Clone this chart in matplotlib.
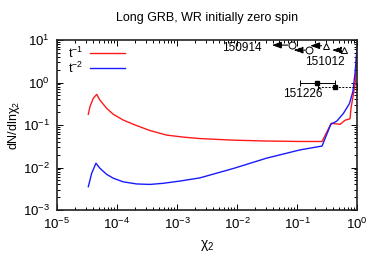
import matplotlib
matplotlib.use('Agg')
from matplotlib import pyplot as plt
from matplotlib.ticker import LogLocator, NullFormatter

plt.rcParams['font.family'] = ['Liberation Sans', 'DejaVu Sans']
plt.rcParams['mathtext.fontset'] = 'custom'
plt.rcParams['mathtext.rm'] = 'Liberation Sans'
plt.rcParams['mathtext.it'] = 'Liberation Sans:italic'
plt.rcParams['mathtext.default'] = 'regular'

# t^-1 delay distribution
chiRed = [3.33e-5, 3.55e-5, 4.03e-5, 4.59e-5, 5.2e-5, 6.73e-5, 8.68e-5, 1.27e-4, 1.87e-4,
          3.55e-4, 6.7e-4, 1.26e-3, 2.4e-3, 8.7e-3, 0.031, 0.112, 0.26, 0.37, 0.52, 0.63,
          0.76, 0.79, 0.93, 0.99]
dnRed = [0.179, 0.27, 0.425, 0.527, 0.387, 0.247, 0.179, 0.131, 0.104,
         0.074, 0.058, 0.052, 0.048, 0.044, 0.042, 0.041, 0.041, 0.11, 0.104, 0.13,
         0.14, 0.25, 0.95, 5.5]

# t^-2 delay distribution
chiBlue = [3.33e-5, 3.79e-5, 4.47e-5, 5.2e-5, 6.73e-5, 8.68e-5, 1.27e-4, 2.13e-4, 3.55e-4,
           5.9e-4, 1.12e-3, 2.4e-3, 8.7e-3, 0.031, 0.112, 0.26, 0.364, 0.459, 0.59, 0.744,
           0.848, 0.927, 1.0]
dnBlue = [0.00353, 0.0073, 0.0126, 0.0096, 0.0069, 0.0056, 0.0046, 0.0041, 0.0040,
          0.00425, 0.0048, 0.0057, 0.0095, 0.0166, 0.026, 0.032, 0.104, 0.124, 0.188, 0.32,
          0.61, 1.8, 7.6]

# GW upper limits (marker position, arrow end)
limX = [0.0817, 0.16, 0.30, 0.61]
limY = [7.6, 5.8, 7.35, 5.8]
limEnd = [0.038, 0.087, 0.165, 0.38]
limMarker = ['o', 'o', '^', '^']
limStyle = ['-', '--', '-', '--']

# GW measurements with ranges
gwX = [0.213, 0.43]
gwY = [1.0, 0.8]
gwLow = [0.112, 0.226]
gwHigh = [0.42, 0.99]
gwStyle = ['-', '--']

gwNames = ['150914', '151012', '151226']
gwNameX = [0.0255, 0.29, 0.124]
gwNameY = [6.5, 3.1, 0.54]
gwNameHa = ['right', 'center', 'center']

fig = plt.figure(figsize=(3.82, 2.67), dpi=100)
ax = fig.add_axes([0.149, 0.2135, 0.786, 0.6365])

ax.plot(chiRed, dnRed, color='#ff1a1a', lw=1.0, label='t$^{-1}$')
ax.plot(chiBlue, dnBlue, color='#1a1aff', lw=1.0, label='t$^{-2}$')

for x, y, end, m, ls in zip(limX, limY, limEnd, limMarker, limStyle):
    ax.annotate('', xy=(end, y), xytext=(x, y),
                arrowprops=dict(arrowstyle='-|>,head_length=0.7,head_width=0.25', color='k', lw=0.8,
                                linestyle=ls if ls == '-' else (0, (2, 1.5)),
                                mutation_scale=8, shrinkA=3, shrinkB=0))
    ax.plot([x], [y], marker=m, ms=5, mfc='white', mec='k', mew=0.7, ls='none')

for x, y, lo, hi, ls in zip(gwX, gwY, gwLow, gwHigh, gwStyle):
    eb = ax.errorbar([x], [y], xerr=[[x - lo], [hi - x]], fmt='s', color='k', ms=3,
                     elinewidth=0.7, capsize=2.5, capthick=0.7)
    if ls != '-':
        eb[2][0].set_linestyle((0, (2, 1.5)))

for name, x, y, ha in zip(gwNames, gwNameX, gwNameY, gwNameHa):
    ax.text(x, y, name, ha=ha, va='center', fontsize=8.5)

ax.set_xscale('log')
ax.set_yscale('log')
ax.set_xlim(1e-5, 1)
ax.set_ylim(1e-3, 10)
ax.xaxis.set_major_locator(LogLocator(base=10, numticks=10))
ax.xaxis.set_minor_locator(LogLocator(base=10, subs=range(2, 10), numticks=20))
ax.xaxis.set_minor_formatter(NullFormatter())
ax.yaxis.set_minor_locator(LogLocator(base=10, subs=range(2, 10), numticks=20))
ax.yaxis.set_minor_formatter(NullFormatter())
ax.tick_params(which='both', direction='in', top=True, right=True, labelsize=9.5, width=0.7)
ax.tick_params(which='major', length=4, pad=5)
ax.tick_params(which='minor', length=2)
for sp in ax.spines.values():
    sp.set_linewidth(1.2)
    sp.set_color('#222222')

ax.set_xlabel(r'$\chi_2$', fontsize=10, labelpad=4)
ax.set_ylabel(r'dN/dln$\chi_2$', fontsize=9, labelpad=1)
ax.set_title('Long GRB, WR initially zero spin', fontsize=9, pad=14)

ax.legend(loc='upper left', bbox_to_anchor=(0.015, 1.005), frameon=False, markerfirst=False,
          handlelength=2.8, handletextpad=0.6, labelspacing=0.0, fontsize=9, borderpad=0.0)

fig.savefig('out.png', dpi=100)
